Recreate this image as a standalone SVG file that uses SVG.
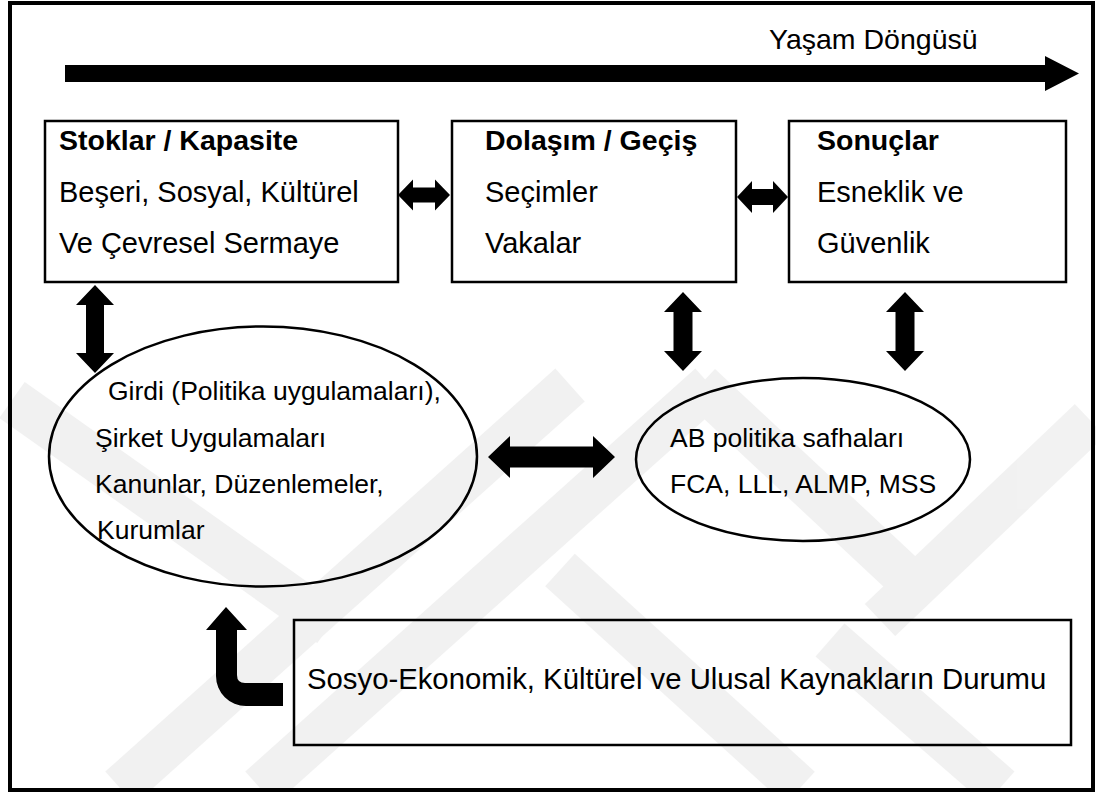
<svg xmlns="http://www.w3.org/2000/svg" width="1096" height="792" viewBox="0 0 1096 792">
<style>
.t{font-family:"Liberation Sans",Arial,sans-serif;fill:#000}
.b{font-weight:bold}
.box{fill:#fff;stroke:#000;stroke-width:2.5}
.ell{fill:#fff;stroke:#000;stroke-width:2.5}
.ar{fill:#000;stroke:none}
.wm{fill:none;stroke:#000;stroke-width:44;stroke-linecap:butt}
</style>
<rect x="0" y="0" width="1096" height="792" fill="#fff"/>
<rect id="frame" x="10" y="3" width="1083" height="787" fill="none" stroke="#000" stroke-width="4"/>
<g id="lifecycle">
<polygon class="ar" points="65,65 1045,65 1045,56 1079,73.5 1045,91 1045,82 65,82"/>
<text class="t" x="769" y="49" font-size="28.5">Yaşam Döngüsü</text>
</g>
<g id="stoklar">
<rect class="box" x="45" y="121" width="353" height="161"/>
<text class="t b" x="59" y="150" font-size="28.5">Stoklar / Kapasite</text>
<text class="t" x="59" y="202" font-size="29">Beşeri, Sosyal, Kültürel</text>
<text class="t" x="59" y="253" font-size="29">Ve Çevresel Sermaye</text>
</g>
<g id="dolasim">
<rect class="box" x="452" y="121" width="284" height="161"/>
<text class="t b" x="485" y="150" font-size="28.5">Dolaşım / Geçiş</text>
<text class="t" x="485" y="202" font-size="29">Seçimler</text>
<text class="t" x="485" y="253" font-size="29">Vakalar</text>
</g>
<g id="sonuclar">
<rect class="box" x="789" y="121" width="277" height="161"/>
<text class="t b" x="817" y="150" font-size="28.5">Sonuçlar</text>
<text class="t" x="817" y="202" font-size="29">Esneklik ve</text>
<text class="t" x="817" y="253" font-size="29">Güvenlik</text>
</g>
<g id="girdi">
<ellipse class="ell" cx="263" cy="456.5" rx="214" ry="130"/>
<text class="t" x="108" y="400" font-size="26.5">Girdi (Politika uygulamaları),</text>
<text class="t" x="95" y="447" font-size="26.5">Şirket Uygulamaları</text>
<text class="t" x="95" y="493" font-size="26.5">Kanunlar, Düzenlemeler,</text>
<text class="t" x="97" y="539" font-size="26.5">Kurumlar</text>
</g>
<g id="ab">
<ellipse class="ell" cx="803" cy="459.5" rx="167" ry="81.5"/>
<text class="t" x="670" y="447" font-size="26.5">AB politika safhaları</text>
<text class="t" x="670" y="493" font-size="26.5">FCA, LLL, ALMP, MSS</text>
</g>
<g id="durum">
<rect class="box" x="294" y="620" width="777" height="125"/>
<text class="t" x="307" y="689" font-size="29.3">Sosyo-Ekonomik, Kültürel ve Ulusal Kaynakların Durumu</text>
</g>
<g id="connectors">
<polygon class="ar" points="398,195 413,179.5 413,187.5 435,187.5 435,179.5 450,195 435,210.5 435,202.5 413,202.5 413,210.5"/>
<polygon class="ar" points="737,197 752,181 752,189 773,189 773,181 788,197 773,213 773,205 752,205 752,213"/>
<polygon class="ar" points="488,457 510,436 510,446.5 593,446.5 593,436 615,457 593,478 593,467.5 510,467.5 510,478"/>
<polygon class="ar" points="95,285 114,305 104,305 104,353 114,353 95,373 76,353 86,353 86,305 76,305"/>
<polygon class="ar" points="683,292 702,312 692.5,312 692.5,351 702,351 683,371 664,351 673.5,351 673.5,312 664,312"/>
<polygon class="ar" points="905,292 924,312 914.5,312 914.5,351 924,351 905,371 886,351 895.5,351 895.5,312 886,312"/>
<path class="ar" d="M226,607 L247,630 L237,630 L237,675 Q237,683 245,683 L283,683 L283,706 L246,706 A30,30 0 0 1 216,676 L216,630 L206,630 Z"/>
</g>
<g id="watermark" opacity="0.05">
<line class="wm" x1="12" y1="400" x2="330" y2="625"/>
<line class="wm" x1="570" y1="385" x2="120" y2="788"/>
<line class="wm" x1="710" y1="385" x2="260" y2="788"/>
<line class="wm" x1="560" y1="570" x2="800" y2="788"/>
<line class="wm" x1="700" y1="385" x2="930" y2="600"/>
<line class="wm" x1="1090" y1="420" x2="880" y2="620"/>
<line class="wm" x1="830" y1="640" x2="1000" y2="788"/>
</g>
</svg>
